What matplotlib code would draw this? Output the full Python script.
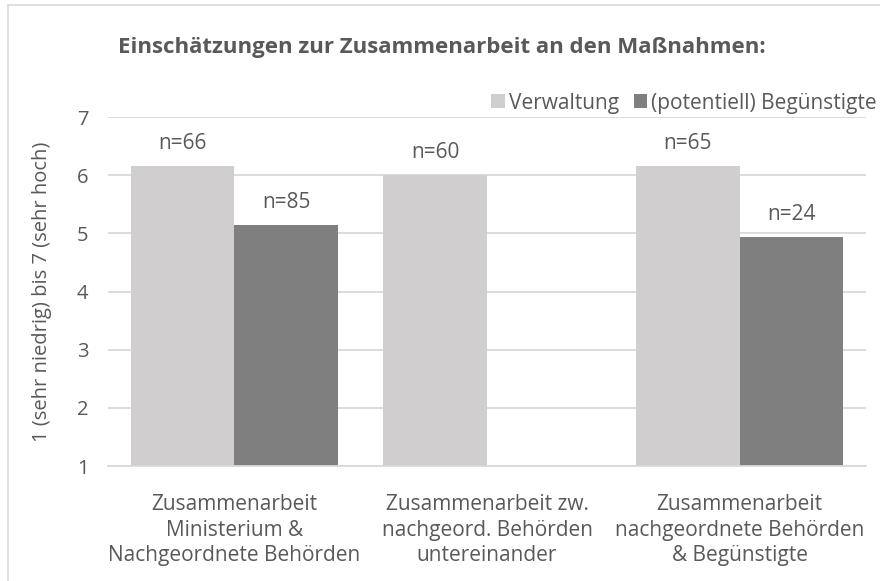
import numpy as np
import matplotlib.pyplot as plt
from matplotlib.patches import Rectangle

plt.rcParams['font.family'] = ['Open Sans', 'DejaVu Sans']

categories = ['Zusammenarbeit\nMinisterium &\nNachgeordnete Behörden',
              'Zusammenarbeit zw.\nnachgeord. Behörden\nuntereinander',
              'Zusammenarbeit\nnachgeordnete Behörden\n& Begünstigte']
verwaltung = [6.15, 6.0, 6.15]
beguenstigte = [5.14, None, 4.93]
n_verwaltung = ['n=66', 'n=60', 'n=65']
n_beguenstigte = ['n=85', None, 'n=24']

txt = '#595959'
light = '#d0cece'
dark = '#7f7f7f'
base = 1

fig = plt.figure(figsize=(8.8, 5.81), dpi=100)
ax = fig.add_axes([108 / 880, 1 - 466 / 581, 758 / 880, 349 / 581])

x = np.arange(len(categories))
w = 0.41
for i in range(len(categories)):
    ax.bar(x[i] - w / 2, verwaltung[i] - base, w, bottom=base, color=light,
           label='Verwaltung' if i == 0 else None)
    ax.annotate(n_verwaltung[i], (x[i] - w / 2, verwaltung[i]), xytext=(0, 9),
                textcoords='offset points', ha='center', va='bottom', fontsize=15, color=txt)
    if beguenstigte[i] is not None:
        ax.bar(x[i] + w / 2, beguenstigte[i] - base, w, bottom=base, color=dark,
               label='(potentiell) Begünstigte' if i == 0 else None)
        ax.annotate(n_beguenstigte[i], (x[i] + w / 2, beguenstigte[i]), xytext=(0, 9),
                    textcoords='offset points', ha='center', va='bottom', fontsize=15, color=txt)

ax.set_xlim(-0.5, 2.5)
ax.set_ylim(1, 7)
ax.set_yticks(range(1, 8))
ax.yaxis.grid(True, color='#d9d9d9', linewidth=1.3)
ax.set_axisbelow(True)
for s in ['top', 'right', 'left']:
    ax.spines[s].set_visible(False)
ax.spines['bottom'].set_color('#d9d9d9')
ax.spines['bottom'].set_linewidth(1.3)
ax.tick_params(length=0, colors=txt)
ax.tick_params(axis='y', pad=14, labelsize=14.5)
ax.tick_params(axis='x', pad=20, labelsize=15)
ax.set_xticks(x)
ax.set_xticklabels(categories, linespacing=1.3)

fig.text(42 / 880, 1 - 292 / 581, '1 (sehr niedrig) bis 7 (sehr hoch)', rotation=90,
         ha='center', va='center', fontsize=14.5, color=txt)
fig.text(442 / 880, 1 - 48 / 581, 'Einschätzungen zur Zusammenarbeit an den Maßnahmen:',
         ha='center', va='center', fontsize=16, fontweight='bold', color=txt)
fig.legend(loc='center right', bbox_to_anchor=(877 / 880, 1 - 103 / 581), ncol=2,
           frameon=False, fontsize=15, labelcolor=txt, handlelength=0.65, handleheight=0.65,
           handletextpad=0.2, columnspacing=0.7, borderpad=0, borderaxespad=0)

fig.patches.append(Rectangle((8 / 880, -0.1), 1.2, 1.1 - 5 / 581, transform=fig.transFigure,
                             fill=False, edgecolor='#d9d9d9', linewidth=1.2))

fig.savefig('out.png', dpi=100)
